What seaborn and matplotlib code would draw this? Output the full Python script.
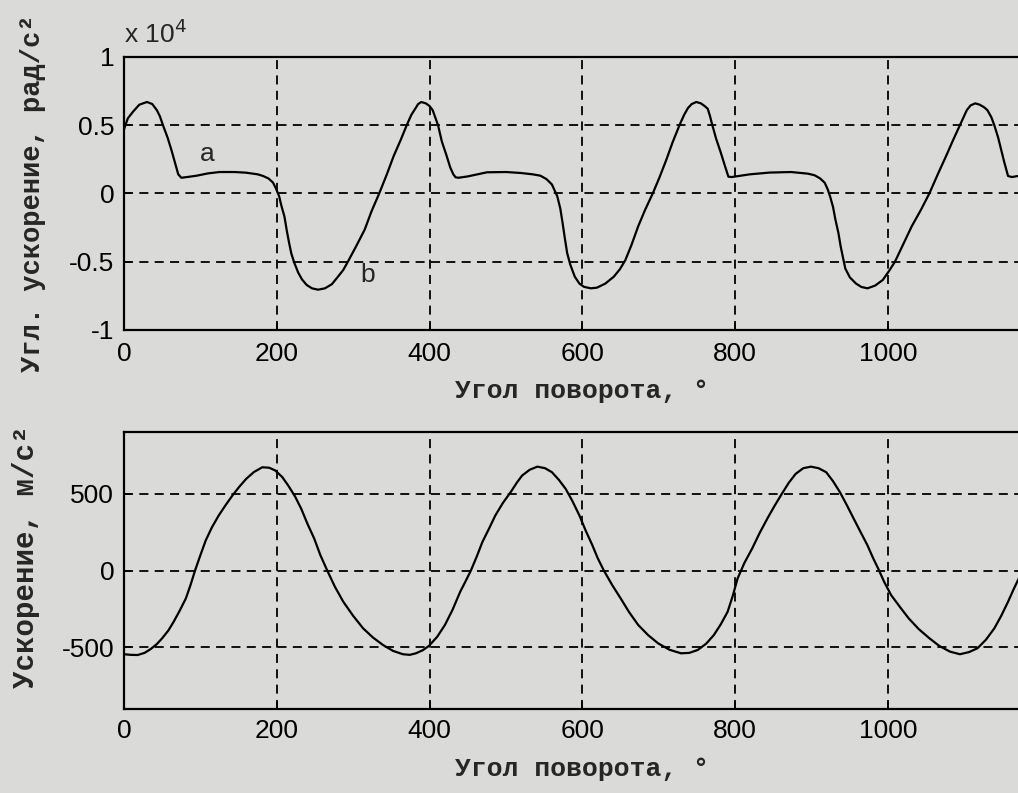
import numpy as np
import pandas as pd
import matplotlib
matplotlib.use("Agg")
import matplotlib.pyplot as plt
import seaborn as sns

# ── Data ──────────────────────────────────────────────────────────────────────
# top: angular acceleration, units of 1e4 rad/s^2
ang_x = [0, 5, 12, 20, 30, 37, 43, 47, 51, 57, 62, 67, 71, 75, 85, 95, 110,
         125, 145, 160, 175, 182, 189, 195, 199, 203, 206, 210, 213, 216, 219,
         223, 228, 233, 239, 246, 254, 263, 272, 280, 287, 293, 304, 315, 324,
         334, 344, 353, 362, 370, 376, 381, 385, 389, 395, 400, 404,
         411, 416, 422, 427, 431, 434, 438, 450, 475, 500, 519, 535, 545, 553,
         560, 567, 571, 574, 577, 580, 584, 590, 596, 602, 611, 619, 630, 641,
         649, 656, 664, 673, 682, 692, 701, 710, 718, 727, 733, 738, 743, 749,
         755, 760, 764, 767, 770, 775, 781, 786, 791, 795,
         819, 845, 873, 895, 904, 911, 917, 921, 924, 928, 931, 935, 938, 941,
         944, 950, 958, 965, 973, 983, 993, 1001, 1009, 1020, 1031, 1043, 1054,
         1065, 1076, 1085, 1094, 1099, 1103, 1108, 1114, 1120, 1126, 1130, 1135,
         1139, 1144, 1148, 1152, 1157, 1162, 1175]
ang_y = [0.47, 0.55, 0.60, 0.65, 0.67, 0.655, 0.61, 0.565, 0.50, 0.41, 0.32,
         0.22, 0.14, 0.115, 0.122, 0.13, 0.147, 0.157, 0.157, 0.152, 0.14,
         0.128, 0.11, 0.08, 0.035, -0.02, -0.09, -0.17, -0.27, -0.36, -0.44,
         -0.51, -0.58, -0.63, -0.67, -0.695, -0.705, -0.695, -0.665, -0.61,
         -0.56, -0.50, -0.385, -0.265, -0.13, 0.0, 0.14, 0.275, 0.39, 0.50,
         0.575, 0.62, 0.655, 0.67, 0.66, 0.64, 0.61,
         0.50, 0.38, 0.28, 0.19, 0.14, 0.118, 0.115, 0.125, 0.155, 0.157, 0.15,
         0.14, 0.13, 0.105, 0.066, -0.02, -0.11, -0.216, -0.33, -0.437, -0.52,
         -0.61, -0.66, -0.684, -0.695, -0.69, -0.66, -0.61, -0.555, -0.49,
         -0.38, -0.24, -0.12, 0.0, 0.12, 0.25, 0.375, 0.50, 0.575, 0.625,
         0.655, 0.67, 0.66, 0.64, 0.62, 0.565, 0.50, 0.40, 0.30, 0.21, 0.123,
         0.12,
         0.14, 0.153, 0.157, 0.145, 0.133, 0.11, 0.079, 0.03, -0.02, -0.10,
         -0.19, -0.29, -0.39, -0.47, -0.55, -0.615, -0.66, -0.685, -0.695,
         -0.675, -0.634, -0.57, -0.50, -0.37, -0.24, -0.12, 0.0, 0.14, 0.275,
         0.39, 0.50, 0.56, 0.61, 0.645, 0.66, 0.65, 0.63, 0.61, 0.56, 0.50,
         0.41, 0.32, 0.23, 0.128, 0.12, 0.133]

# bottom: linear acceleration, m/s^2
lin_x = [0, 9, 18, 27, 35, 43, 50, 58, 65, 73, 81, 87, 93, 100, 107, 115, 124,
         133, 142, 151, 160, 170, 181, 190, 198, 207, 215, 224, 232, 240, 249,
         257, 266, 276, 287, 300, 313, 326, 339, 352, 365, 374, 382, 391, 399,
         410, 420, 430, 440, 447, 454, 462, 469, 478, 486, 496, 506, 514, 521,
         531, 541, 551, 560, 569, 578, 587, 596, 604, 613, 620, 628, 639, 650,
         661, 673, 686, 699, 714, 729, 740, 751, 762, 772, 781, 790, 797, 803,
         812, 822, 832, 843, 852, 861, 870, 879, 889, 899, 909, 919, 928, 937,
         946, 955, 964, 973, 980, 987, 995, 1004, 1016, 1027, 1040, 1054, 1067,
         1081, 1094, 1106, 1117, 1128, 1139, 1148, 1157, 1164, 1171]
lin_y = [-544, -548, -549, -535, -510, -478, -440, -390, -333, -260, -181, -95,
         0, 100, 196, 280, 358, 425, 488, 545, 596, 640, 671, 668, 650, 608,
         552, 480, 401, 305, 207, 100, 0, -105, -203, -295, -376, -436, -484,
         -522, -544, -548, -538, -518, -490, -430, -354, -255, -138, -70, 0,
         95, 185, 275, 358, 440, 509, 570, 617, 655, 675, 665, 639, 590, 531,
         450, 358, 262, 164, 80, 0, -95, -181, -270, -354, -420, -473, -515,
         -538, -535, -516, -475, -419, -350, -268, -160, -52, 50, 142, 245,
         347, 425, 499, 570, 628, 665, 675, 665, 639, 580, 509, 425, 337, 250,
         164, 85, 13, -75, -160, -240, -311, -380, -440, -490, -527, -544,
         -530, -505, -450, -376, -295, -203, -125, -52]

x_ticks = [0, 200, 400, 600, 800, 1000]
top_yticks = [-1, -0.5, 0, 0.5, 1]
top_ylabels = ["-1", "-0.5", "0", "0.5", "1"]
bot_yticks = [-500, 0, 500]

df_top = pd.DataFrame({"angle": ang_x, "acc": ang_y})
df_bot = pd.DataFrame({"angle": lin_x, "acc": lin_y})

# ── Style ─────────────────────────────────────────────────────────────────────
sns.set_style("ticks")
paper = "#dadad8"
plt.rcParams["font.family"] = ["Liberation Sans", "DejaVu Sans"]
plt.rcParams["axes.unicode_minus"] = False

mono = dict(family=["Liberation Mono", "DejaVu Sans Mono"], weight="bold")

fig = plt.figure(figsize=(10.18, 7.93), dpi=100, facecolor=paper)
ax1 = fig.add_axes([0.1218, 0.5839, 0.9007, 0.3443])
ax2 = fig.add_axes([0.1218, 0.1059, 0.9007, 0.3493])

for ax, df in [(ax1, df_top), (ax2, df_bot)]:
    ax.set_facecolor(paper)
    sns.lineplot(data=df, x="angle", y="acc", ax=ax, color="black",
                 linewidth=1.6, errorbar=None)
    ax.set_xlim(0, 1200)
    ax.set_xticks(x_ticks)
    ax.grid(True, color="black", linestyle=(0, (5, 3.5)), linewidth=1.3)
    for s in ax.spines.values():
        s.set_linewidth(1.6)
        s.set_color("black")
    ax.tick_params(direction="in", length=5, width=1.2, labelsize=19,
                   colors="black")
    ax.tick_params(axis="y", pad=7)

ax1.set_ylim(-1, 1)
ax1.set_yticks(top_yticks)
ax1.set_yticklabels(top_ylabels)
ax1.tick_params(axis="x", pad=9)
ax1.set_xlabel("Угол поворота, °", labelpad=9, fontsize=19, **mono)
ax1.set_ylabel("Угл. ускорение, рад/с²", fontsize=19.5, **mono)
ax1.yaxis.set_label_coords(-0.085, 0.5)
ax1.text(0.0, 1.05, r"x 10$^4$", transform=ax1.transAxes, fontsize=19,
         ha="left", va="baseline")
ax1.text(109, 0.29, "a", fontsize=19, ha="center", va="center")
ax1.text(319, -0.60, "b", fontsize=19, ha="center", va="center")

ax2.set_ylim(-900, 900)
ax2.set_yticks(bot_yticks)
ax2.tick_params(axis="x", pad=7)
ax2.set_xlabel("Угол поворота, °", labelpad=10, fontsize=19, **mono)
ax2.set_ylabel("Ускорение, м/с²", fontsize=21, **mono)
ax2.yaxis.set_label_coords(-0.092, 0.55)

fig.savefig("out.png", dpi=100, facecolor=paper)
